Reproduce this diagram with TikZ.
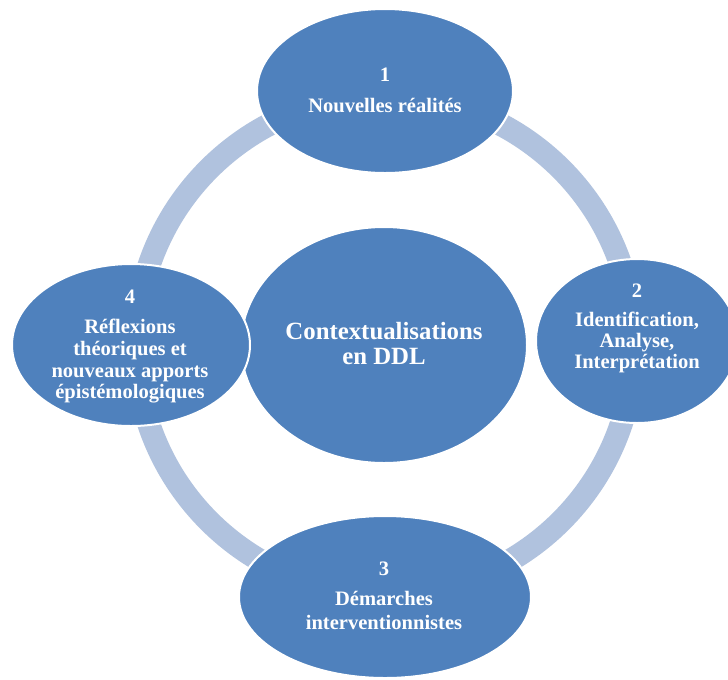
\documentclass[tikz,border=0pt]{standalone}
\usepackage{fontspec}
\setmainfont{Liberation Serif}
\usetikzlibrary{shapes.geometric}
\definecolor{blob}{RGB}{79,129,189}
\definecolor{ringc}{RGB}{176,194,222}
\tikzset{
  bubble/.style={ellipse, fill=blob, draw=white, line width=1.5pt, inner sep=0pt},
  lbl/.style={text=white, font=\fontsize{15.4pt}{18pt}\selectfont\bfseries, anchor=base, inner sep=0pt},
  biglbl/.style={text=white, font=\fontsize{18.6pt}{22pt}\selectfont\bfseries, anchor=base, inner sep=0pt},
  ringstyle/.style={draw=ringc, line width=17.25pt}
}
\begin{document}
\begin{tikzpicture}[x=0.75pt, y=-0.75pt]
\clip (0,0) rectangle (728,679);
\fill[white] (0,0) rectangle (728,679);
\coordinate (o) at (385,345);
\draw[ringstyle] (o) circle[radius=186.75pt];
% centre
\node[bubble, minimum width=214.5pt, minimum height=177pt] (c) at (384,345) {};
% satellites
\node[bubble, minimum width=192pt, minimum height=123pt] (e1) at (385,91) {};
\node[bubble, minimum width=151.5pt, minimum height=123pt] (e2) at (637,341) {};
\node[bubble, minimum width=219pt, minimum height=121.5pt] (e3) at (385,597) {};
\node[bubble, minimum width=178.5pt, minimum height=121.5pt] (e4) at (131,345) {};
% centre text
\node[biglbl] (c1) at (384,339) {Contextualisations};
\node[biglbl] (c2) at (384,364) {en DDL};
% 1
\node[lbl] (t1a) at (385,81) {1};
\node[lbl] (t1b) at (385,112) {Nouvelles réalités};
% 2
\node[lbl] (t2a) at (637,297) {2};
\node[lbl] (t2b) at (637,326) {Identification,};
\node[lbl] (t2c) at (637,347) {Analyse,};
\node[lbl] (t2d) at (637,368) {Interprétation};
% 3
\node[lbl] (t3a) at (384,575) {3};
\node[lbl] (t3b) at (384,605) {Démarches};
\node[lbl] (t3c) at (384,629) {interventionnistes};
% 4
\node[lbl] (t4a) at (130,303) {4};
\node[lbl] (t4b) at (130,333) {Réflexions};
\node[lbl] (t4c) at (130,355) {théoriques et};
\node[lbl] (t4d) at (130,377) {nouveaux apports};
\node[lbl] (t4e) at (130,398) {épistémologiques};
\end{tikzpicture}
\end{document}
